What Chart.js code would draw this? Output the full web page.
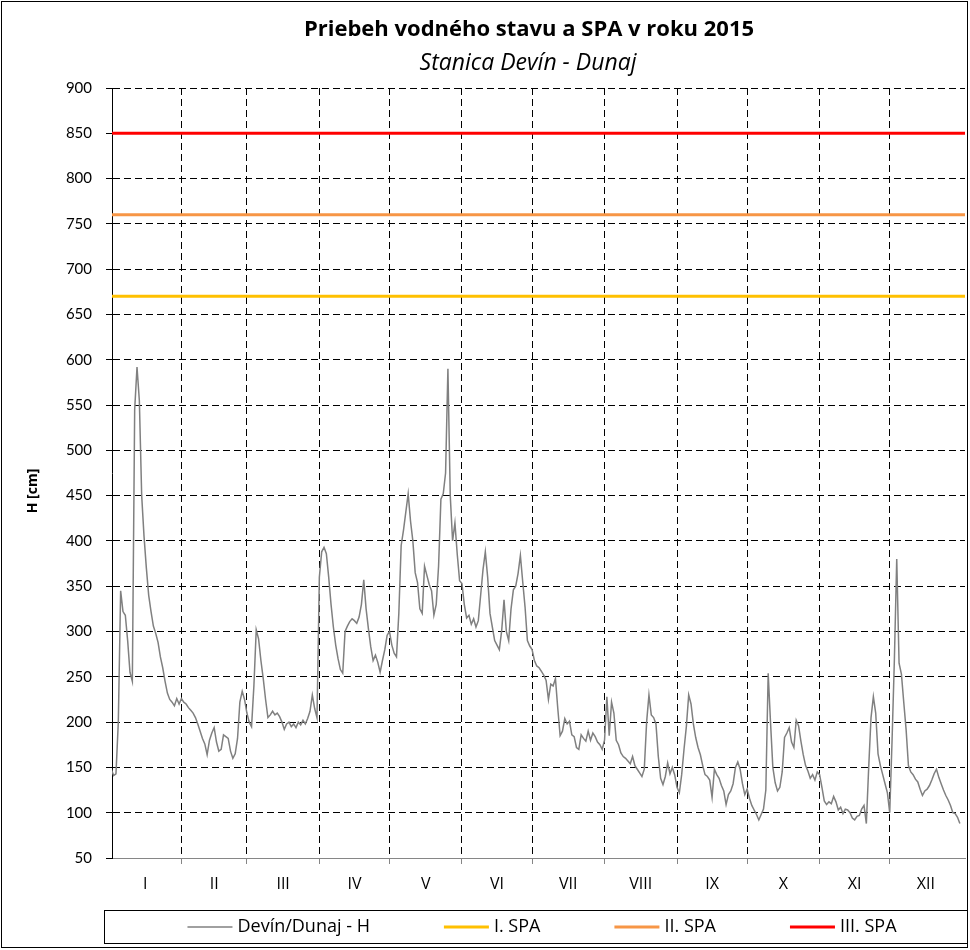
<!DOCTYPE html>
<html>
<head>
<meta charset="utf-8">
<title>Priebeh vodného stavu a SPA v roku 2015</title>
<script src="https://cdn.jsdelivr.net/npm/chart.js@4.4.1/dist/chart.umd.min.js"></script>
<style>
  html, body { margin: 0; padding: 0; background: #fff; }
</style>
</head>
<body>
<canvas id="chart" width="970" height="950"></canvas>
<script>
// ---- data ----
const monthLabels = ['I', 'II', 'III', 'IV', 'V', 'VI', 'VII', 'VIII', 'IX', 'X', 'XI', 'XII'];
// first day-of-year of every month, plus 1st Jan of next year
const monthStarts = [1, 32, 60, 91, 121, 152, 182, 213, 244, 274, 305, 335, 366];

// daily water level H [cm], Devín - Dunaj, 2015
const hJan = [145, 148, 141, 143, 200, 345, 322, 318, 290, 255, 245, 545, 592, 555, 450, 405, 370, 340, 322, 306, 298, 288, 272, 260, 245, 232, 225, 222, 218, 226, 220];
const hFeb = [226, 222, 220, 216, 213, 210, 205, 198, 190, 182, 176, 164, 180, 188, 194, 178, 168, 170, 186, 184, 182, 168, 160, 165, 182, 222, 234, 225];
const hMar = [210, 200, 195, 240, 302, 292, 268, 248, 225, 205, 208, 212, 208, 210, 206, 200, 192, 198, 200, 195, 198, 194, 200, 197, 202, 198, 204, 212, 230, 215, 205];
const hApr = [360, 388, 393, 386, 360, 330, 305, 285, 270, 258, 254, 300, 306, 311, 314, 312, 309, 316, 330, 357, 325, 303, 283, 268, 274, 266, 255, 268, 280, 296];
const hMay = [300, 285, 276, 272, 320, 395, 412, 432, 452, 422, 400, 365, 354, 325, 320, 372, 362, 352, 345, 318, 330, 372, 446, 452, 475, 590, 450, 400, 420, 385, 356];
const hJun = [353, 330, 315, 318, 308, 314, 305, 312, 340, 368, 388, 360, 320, 305, 290, 285, 280, 301, 335, 300, 290, 325, 346, 350, 364, 384, 355, 327, 290, 284];
const hJul = [280, 268, 262, 260, 256, 252, 246, 225, 242, 240, 248, 215, 185, 190, 204, 198, 201, 186, 184, 172, 170, 186, 182, 179, 190, 180, 188, 184, 178, 175, 170];
const hAug = [180, 228, 185, 222, 210, 180, 175, 166, 162, 160, 157, 154, 162, 152, 148, 144, 140, 148, 200, 230, 208, 205, 198, 162, 138, 131, 140, 155, 143, 150, 142];
const hSep = [128, 122, 142, 170, 195, 230, 220, 198, 183, 172, 164, 152, 142, 140, 136, 117, 148, 142, 138, 130, 124, 109, 120, 124, 132, 150, 156, 148, 132, 120];
const hOct = [126, 116, 108, 103, 98, 92, 98, 104, 125, 254, 200, 150, 133, 124, 128, 145, 183, 188, 194, 178, 172, 202, 196, 179, 164, 152, 146, 138, 142, 136, 145];
const hNov = [142, 128, 113, 109, 112, 110, 118, 112, 103, 106, 99, 104, 103, 100, 94, 92, 96, 97, 104, 108, 88, 150, 205, 228, 210, 165, 152, 142, 132, 122];
const hDec = [100, 180, 270, 380, 265, 253, 222, 192, 152, 145, 142, 137, 134, 126, 119, 124, 126, 130, 136, 143, 148, 139, 132, 125, 119, 114, 108, 100, 99, 95, 88];

// flood activity levels (stupne povodňovej aktivity)
const spaLabels = ['I. SPA', 'II. SPA', 'III. SPA'];
const spaLevels = [670, 760, 850];
const spaColors = ['#FFC000', '#F79646', '#FF0000'];

const seriesLabel = 'Devín/Dunaj - H';
const seriesColor = '#808080';

const yMin = 50, yMax = 900, yStep = 50;
const xMin = 2.3, xMax = 367.2;

// ---- build ----
const hAll = [].concat(hJan, hFeb, hMar, hApr, hMay, hJun, hJul, hAug, hSep, hOct, hNov, hDec);
const hPoints = hAll.map((v, i) => ({ x: i + 1, y: v }));
const monthMids = monthLabels.map((m, i) => (monthStarts[i] + monthStarts[i + 1]) / 2);

const datasets = [{
  label: seriesLabel,
  data: hPoints,
  borderColor: seriesColor,
  borderWidth: 1.5,
  pointRadius: 0,
  tension: 0
}];
spaLevels.forEach((lvl, i) => {
  datasets.push({
    label: spaLabels[i],
    data: [{ x: xMin, y: lvl }, { x: xMax, y: lvl }],
    borderColor: spaColors[i],
    borderWidth: 3,
    pointRadius: 0
  });
});

const FONT = 'Lato';
const FONT2 = '"Open Sans"';

// title, axis title, legend box and outer frame
const decor = {
  id: 'decor',
  afterDraw(chart) {
    const ctx = chart.ctx;
    ctx.save();
    ctx.fillStyle = '#000';
    ctx.textAlign = 'center';
    ctx.textBaseline = 'middle';
    ctx.font = 'bold 22px ' + FONT2;
    ctx.fillText('Priebeh vodného stavu a SPA v roku 2015', 529, 30);
    ctx.font = 'italic 23px ' + FONT2;
    ctx.fillText('Stanica Devín - Dunaj', 528, 63);

    ctx.save();
    ctx.translate(33, 491);
    ctx.rotate(-Math.PI / 2);
    ctx.font = 'bold 14px ' + FONT2;
    ctx.fillText('H [cm]', 0, 0);
    ctx.restore();

    // legend
    const items = chart.data.datasets.map(d => ({ label: d.label, color: d.borderColor, w: d.borderWidth }));
    ctx.font = '18px ' + FONT2;
    const lineLen = 45, gap = 5, spacing = 74;
    let total = 0;
    items.forEach((it, i) => {
      it.tw = ctx.measureText(it.label).width;
      total += lineLen + gap + it.tw + (i ? spacing : 0);
    });
    const cy = 927;
    let x = 542 - total / 2;
    ctx.textAlign = 'left';
    items.forEach(it => {
      ctx.strokeStyle = it.color;
      ctx.lineWidth = it.w;
      ctx.beginPath();
      ctx.moveTo(x, cy);
      ctx.lineTo(x + lineLen, cy);
      ctx.stroke();
      ctx.fillStyle = '#000';
      ctx.fillText(it.label, x + lineLen + gap, cy);
      x += lineLen + gap + it.tw + spacing;
    });
    ctx.strokeStyle = '#000';
    ctx.lineWidth = 1;
    ctx.strokeRect(104.5, 910.5, 863, 33);

    // outer frame
    ctx.strokeStyle = '#000';
    ctx.strokeRect(1.5, 1.5, 966, 946);
    ctx.restore();
  }
};

new Chart(document.getElementById('chart'), {
  type: 'line',
  data: { datasets },
  plugins: [decor],
  options: {
    responsive: false,
    animation: false,
    devicePixelRatio: 1,
    layout: { padding: { top: 88, right: 5, bottom: 52, left: 0 } },
    plugins: {
      legend: { display: false },
      title: { display: false },
      tooltip: { enabled: false }
    },
    scales: {
      x: {
        type: 'linear',
        position: 'bottom',
        min: xMin,
        max: xMax,
        afterBuildTicks: s => { s.ticks = monthStarts.slice(1, 12).map(v => ({ value: v })); },
        afterFit: s => { s.height = 6; },
        ticks: { display: false },
        grid: { color: '#000', lineWidth: 1, drawTicks: true, tickLength: 6, tickColor: '#868686', tickBorderDash: [] },
        border: { display: true, color: '#868686', width: 1, dash: [7, 4] }
      },
      xm: {
        type: 'linear',
        position: 'bottom',
        min: xMin,
        max: xMax,
        afterBuildTicks: s => { s.ticks = monthMids.map(v => ({ value: v })); },
        afterFit: s => { s.height = 34; },
        ticks: {
          autoSkip: false,
          maxRotation: 0,
          padding: 11,
          color: '#000',
          font: { family: FONT2, size: 16 },
          callback: (v, i) => monthLabels[i]
        },
        grid: { display: false, drawTicks: false },
        border: { display: false }
      },
      y: {
        min: yMin,
        max: yMax,
        afterFit: s => { s.width = 112; },
        ticks: { stepSize: yStep, padding: 14, color: '#000', font: { family: FONT, size: 15 } },
        grid: {
          color: c => (c.tick && c.tick.value === yMin ? 'rgba(0,0,0,0)' : '#000'),
          lineWidth: 1,
          tickLength: 6,
          tickColor: '#000',
          tickBorderDash: []
        },
        border: { display: true, color: '#000', width: 1, dash: [7, 4] }
      }
    }
  }
});
</script>
</body>
</html>
